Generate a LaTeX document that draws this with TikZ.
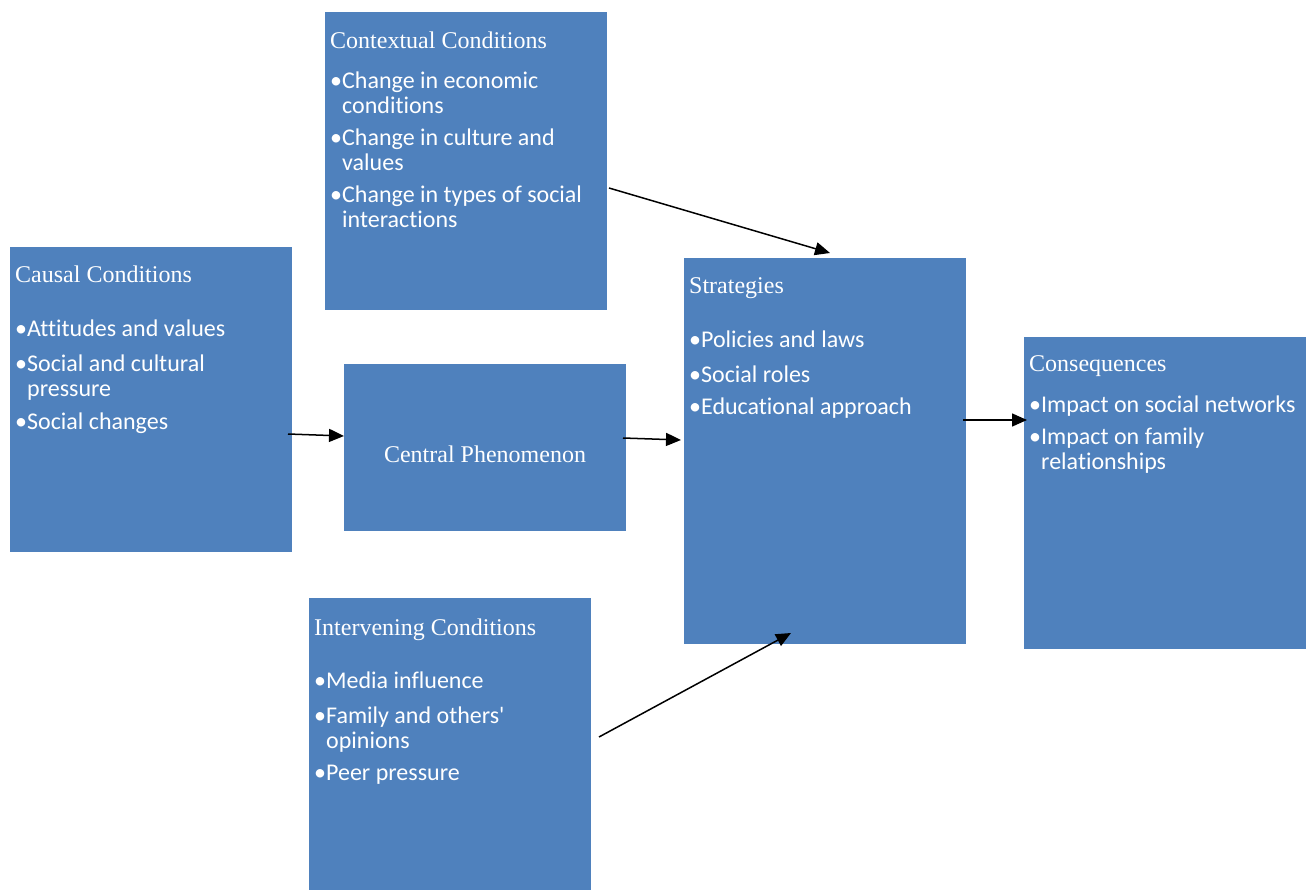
\documentclass[tikz,border=0pt]{standalone}
\usepackage{fontspec}
\setmainfont{Liberation Serif}
\newfontfamily\bulfont[Ligatures={NoCommon}]{Carlito}
\usetikzlibrary{arrows.meta}
\definecolor{boxblue}{HTML}{4F81BD}
\begin{document}
\begin{tikzpicture}[x=1pt,y=-1pt,
  box/.style={fill=boxblue,draw=none,anchor=north west,inner sep=0pt,outer sep=0pt},
  ttl/.style={anchor=base west,inner sep=0pt,text=white,font=\fontsize{24}{28}\selectfont},
  ln/.style={anchor=base west,inner sep=0pt,text=white,font=\bulfont\fontsize{24}{28}\selectfont},
  conn/.style={draw=black,line width=1.5pt,-{Triangle[length=15pt,width=13pt]}}]
\useasboundingbox (0,0) rectangle (1312,890);
% boxes
\node[box,minimum width=282,minimum height=298] (ctx) at (325,12) {};
\node[box,minimum width=282,minimum height=305] (cau) at (10,247) {};
\node[box,minimum width=282,minimum height=167] (cen) at (344,364) {};
\node[box,minimum width=282,minimum height=386] (str) at (684,258) {};
\node[box,minimum width=282,minimum height=312] (con) at (1024,337) {};
\node[box,minimum width=282,minimum height=292] (int) at (309,598) {};
% contextual
\node[ttl] (ctxT) at (330,49) {Contextual Conditions};
\node[ln] (ctx1a) at (330,89) {•Change in economic};
\node[ln] (ctx1b) at (342,114) {conditions};
\node[ln] (ctx2a) at (330,146) {•Change in culture and};
\node[ln] (ctx2b) at (342,171) {values};
\node[ln] (ctx3a) at (330,203) {•Change in types of social};
\node[ln] (ctx3b) at (342,228) {interactions};
% causal
\node[ttl] (cauT) at (15,283) {Causal Conditions};
\node[ln] (cau1) at (15,337) {•Attitudes and values};
\node[ln] (cau2a) at (15,372) {•Social and cultural};
\node[ln] (cau2b) at (27,397) {pressure};
\node[ln] (cau3) at (15,430) {•Social changes};
% central
\node[text=white,inner sep=0pt,font=\fontsize{24}{28}\selectfont] (cenT) at (485,454) {Central Phenomenon};
% strategies
\node[ttl] (strT) at (689,294) {Strategies};
\node[ln] (str1) at (689,348) {•Policies and laws};
\node[ln] (str2) at (689,383) {•Social roles};
\node[ln] (str3) at (689,414) {•Educational approach};
% consequences
\node[ttl] (conT) at (1029,372) {Consequences};
\node[ln] (con1) at (1029,413) {•Impact on social networks};
\node[ln] (con2a) at (1029,444) {•Impact on family};
\node[ln] (con2b) at (1041,469) {relationships};
% intervening
\node[ttl] (intT) at (314,635) {Intervening Conditions};
\node[ln] (int1) at (314,688) {•Media influence};
\node[ln] (int2a) at (314,723) {•Family and others'};
\node[ln] (int2b) at (326,748) {opinions};
\node[ln] (int3) at (314,780) {•Peer pressure};
% connector ends
\coordinate (a1s) at (609,188); \coordinate (a1e) at (830,253);
\coordinate (a2s) at (288,434); \coordinate (a2e) at (344,436);
\coordinate (a3s) at (623,438); \coordinate (a3e) at (681,440);
\coordinate (a4s) at (599,737); \coordinate (a4e) at (791,633);
\coordinate (a5s) at (963,420); \coordinate (a5e) at (1027,420);
\draw[conn] (a1s) -- (a1e);
\draw[conn] (a2s) -- (a2e);
\draw[conn] (a3s) -- (a3e);
\draw[conn] (a4s) -- (a4e);
\draw[conn] (a5s) -- (a5e);
\end{tikzpicture}
\end{document}
